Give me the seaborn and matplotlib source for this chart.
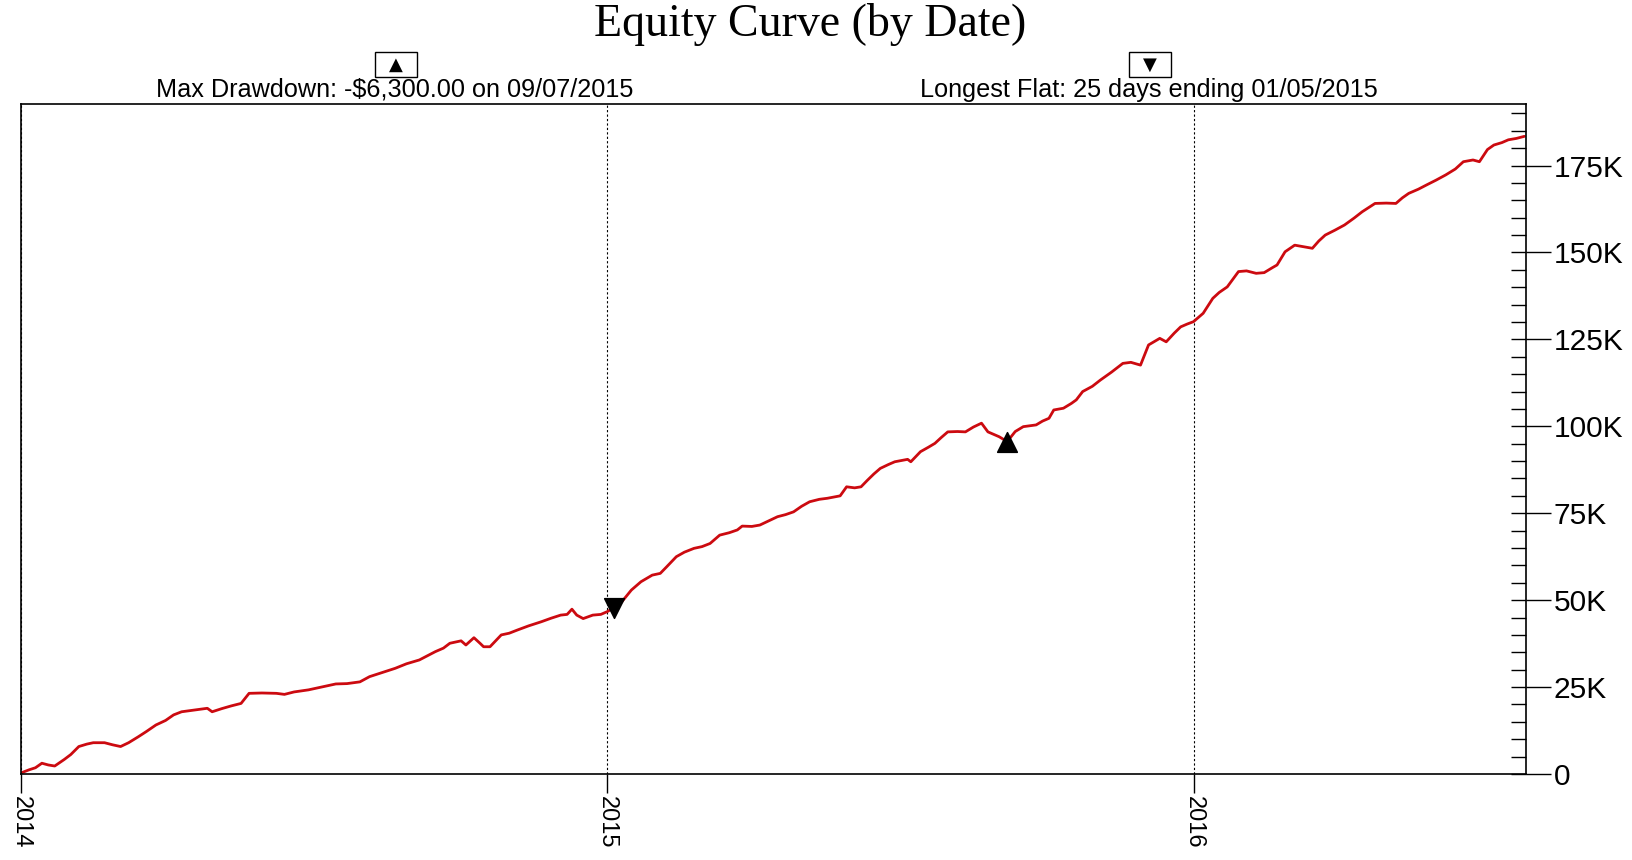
import numpy as np
import pandas as pd
import matplotlib
matplotlib.use("Agg")
import matplotlib.pyplot as plt
import matplotlib.dates as mdates
from matplotlib.ticker import MultipleLocator, FuncFormatter
from matplotlib.patches import Rectangle
import seaborn as sns

# ---------------- data ----------------
start_date = "2014-01-01"
day_offsets = [0, 5, 9, 13, 17, 21, 27, 31, 36, 41, 45, 52, 57, 62, 67, 73, 78, 84, 90, 95,
               100, 108, 116, 119, 125, 131, 137, 142, 150, 159, 164, 170, 179, 187, 196, 203,
               211, 217, 225, 233, 240, 248, 253, 258, 263, 267, 274, 277, 282, 286, 288, 292,
               299, 304, 309, 316, 324, 330, 336, 340, 343, 346, 350, 353, 356, 361, 365, 369,
               374, 380, 386, 393, 398, 402, 408, 413, 419, 424, 429, 435, 441, 446, 449, 455,
               460, 466, 471, 476, 481, 486, 491, 497, 502, 510, 514, 519, 523, 527, 531, 535,
               540, 544, 552, 554, 560, 565, 569, 573, 577, 583, 588, 593, 598, 602, 605, 609,
               614, 619, 624, 632, 636, 640, 643, 649, 654, 657, 661, 667, 672, 679, 686, 691,
               697, 702, 709, 713, 718, 722, 726, 730, 736, 742, 746, 751, 755, 758, 763, 769,
               774, 779, 782, 787, 793, 799, 804, 808, 812, 818, 824, 830, 835, 840, 843, 850,
               856, 860, 864, 870, 875, 881, 887, 893, 898, 904, 908, 913, 917, 922, 926, 931,
               936]
equity_k = [0.3, 1.2, 1.8, 3.1, 2.6, 2.3, 4.2, 5.6, 7.9, 8.6, 9.0, 9.0, 8.4, 7.9, 9.0, 10.7,
            12.2, 14.1, 15.4, 17.0, 17.9, 18.4, 18.9, 17.9, 18.8, 19.6, 20.3, 23.2, 23.3, 23.2,
            22.9, 23.6, 24.2, 25.0, 25.9, 26.0, 26.5, 28.0, 29.2, 30.4, 31.7, 32.8, 34.0, 35.2,
            36.2, 37.6, 38.3, 37.1, 39.2, 37.5, 36.6, 36.6, 40.0, 40.5, 41.4, 42.6, 43.8, 44.8,
            45.7, 45.9, 47.4, 45.7, 44.7, 45.2, 45.7, 45.9, 46.7, 47.8, 49.5, 52.9, 55.3, 57.2,
            57.7, 59.6, 62.5, 63.8, 64.9, 65.4, 66.3, 68.7, 69.4, 70.2, 71.3, 71.2, 71.6, 72.9,
            74.0, 74.6, 75.4, 77.0, 78.3, 79.0, 79.3, 80.0, 82.6, 82.3, 82.6, 84.5, 86.3, 87.9,
            89.0, 89.8, 90.5, 89.8, 92.7, 94.0, 95.1, 96.8, 98.4, 98.5, 98.4, 99.8, 100.9, 98.4,
            97.8, 97.0, 95.6, 98.5, 99.9, 100.4, 101.5, 102.3, 104.7, 105.2, 106.6, 107.6, 110.0,
            111.5, 113.3, 115.6, 118.1, 118.4, 117.6, 123.4, 125.3, 124.3, 126.8, 128.6, 129.4,
            130.1, 132.5, 136.8, 138.5, 140.1, 142.6, 144.5, 144.7, 144.0, 144.2, 145.6, 146.4,
            150.2, 152.1, 151.6, 151.2, 153.3, 155.0, 156.4, 157.9, 159.9, 161.7, 163.2, 164.1,
            164.2, 164.1, 165.7, 167.0, 168.2, 169.4, 170.8, 172.3, 174.0, 176.1, 176.6, 176.1,
            179.6, 180.9, 181.6, 182.4, 182.8, 183.4]
end_date = "2016-07-26"

flat_end_date = "2015-01-05"
flat_end_value_k = 47.8
drawdown_date = "2015-09-07"
drawdown_value_k = 95.6

title_text = "Equity Curve (by Date)"
drawdown_text = "Max Drawdown: -$6,300.00 on 09/07/2015"
flat_text = "Longest Flat: 25 days ending 01/05/2015"

# ---------------- plotting ----------------
sns.set_style("ticks")
plt.rcParams["font.family"] = ["Liberation Sans", "DejaVu Sans"]

W, H = 1633, 860
fig = plt.figure(figsize=(W / 100, H / 100), dpi=100)
left, right, top, bottom = 21, 1526, 104, 774
ax = fig.add_axes([left / W, 1 - bottom / H, (right - left) / W, (bottom - top) / H])

dates = pd.to_datetime(start_date) + pd.to_timedelta(day_offsets, unit="D")
df = pd.DataFrame({"date": dates, "equity": equity_k})

line_color = "#CC0A10"
sns.lineplot(data=df, x="date", y="equity", ax=ax, color=line_color, linewidth=2.0)

sns.scatterplot(x=[pd.to_datetime(flat_end_date)], y=[flat_end_value_k], ax=ax,
                marker="v", s=200, color="black", edgecolor="black", zorder=5)
sns.scatterplot(x=[pd.to_datetime(drawdown_date)], y=[drawdown_value_k], ax=ax,
                marker="^", s=200, color="black", edgecolor="black", zorder=5)

ax.set_xlim(pd.to_datetime(start_date), pd.to_datetime(end_date))
ax.set_ylim(0, 192.7)
ax.set_xlabel("")
ax.set_ylabel("")

# y axis on the right
ax.yaxis.tick_right()
ax.yaxis.set_major_locator(MultipleLocator(25))
ax.yaxis.set_minor_locator(MultipleLocator(5))
ax.yaxis.remove_overlapping_locs = False
ax.yaxis.set_major_formatter(FuncFormatter(lambda v, p: "0" if v == 0 else f"{v:.0f}K"))
ax.tick_params(axis="y", which="major", direction="out", length=18, width=1.0,
               labelsize=21.5, pad=2, colors="black", left=False, right=True)
ax.tick_params(axis="y", which="minor", direction="in", length=11, width=1.0,
               left=False, right=True, colors="black")

# x axis years
ax.xaxis.set_major_locator(mdates.YearLocator())
ax.xaxis.set_major_formatter(mdates.DateFormatter("%Y"))
ax.xaxis.set_minor_locator(plt.NullLocator())
ax.tick_params(axis="x", which="major", direction="out", length=14, width=1.0,
               labelsize=17, pad=2, colors="black")
for lab in ax.get_xticklabels():
    lab.set_rotation(-90)
    lab.set_va("top")
    lab.set_ha("center")

ax.grid(axis="x", which="major", color="black", linestyle=(0, (2, 2)), linewidth=0.8)
ax.grid(axis="y", visible=False)

for s in ax.spines.values():
    s.set_visible(True)
    s.set_color("black")
    s.set_linewidth(1.2)

# header texts
fig.text(810 / W, 1 - 3 / H, title_text, ha="center", va="top", fontsize=33,
         family=["Liberation Serif", "DejaVu Serif"], color="black")
fig.text(395 / W, 1 - 97 / H, drawdown_text, ha="center", va="baseline", fontsize=18.2,
         color="black")
fig.text(1149 / W, 1 - 97 / H, flat_text, ha="center", va="baseline", fontsize=18.2,
         color="black")

for cx, sym in [(396, "\u25B2"), (1149.5, "\u25BC")]:
    bw, bh, by = 42, 25, 52
    fig.patches.append(Rectangle(((cx - bw / 2) / W, 1 - (by + bh) / H), bw / W, bh / H,
                                 transform=fig.transFigure, fill=False,
                                 edgecolor="black", linewidth=1.0))
    fig.text(cx / W, 1 - (by + bh / 2) / H, sym, ha="center", va="center",
             fontsize=13, family="DejaVu Sans", color="black")

fig.savefig("out.png", dpi=100)
